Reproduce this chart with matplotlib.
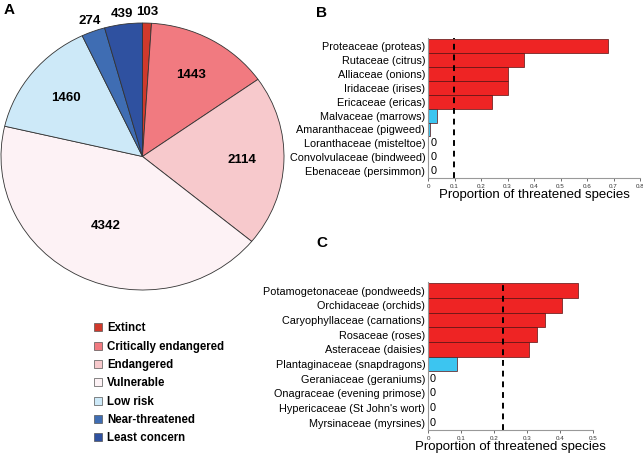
import numpy as np
import matplotlib.pyplot as plt
from matplotlib.patches import Patch

# Panel A: IUCN categories
cats = ['Extinct', 'Critically endangered', 'Endangered', 'Vulnerable',
        'Low risk', 'Near-threatened', 'Least concern']
counts = [103, 1443, 2114, 4342, 1460, 274, 439]
pie_colors = ['#d0392b', '#f17a80', '#f7c9cc', '#fdf2f5', '#cde9f8', '#3f6db3', '#2f51a0']

# Panel B
fam_b = ['Proteaceae (proteas)', 'Rutaceae (citrus)', 'Alliaceae (onions)',
         'Iridaceae (irises)', 'Ericaceae (ericas)', 'Malvaceae (marrows)',
         'Amaranthaceae (pigweed)', 'Loranthaceae (misteltoe)',
         'Convolvulaceae (bindweed)', 'Ebenaceae (persimmon)']
prop_b = [0.68, 0.362, 0.302, 0.302, 0.243, 0.035, 0.008, 0, 0, 0]
mean_b = 0.097

# Panel C
fam_c = ['Potamogetonaceae (pondweeds)', 'Orchidaceae (orchids)',
         'Caryophyllaceae (carnations)', 'Rosaceae (roses)', 'Asteraceae (daisies)',
         'Plantaginaceae (snapdragons)', 'Geraniaceae (geraniums)',
         'Onagraceae (evening primose)', "Hypericaceae (St John's wort)",
         'Myrsinaceae (myrsines)']
prop_c = [0.456, 0.405, 0.356, 0.33, 0.305, 0.088, 0, 0, 0, 0]
mean_c = 0.228

plt.rcParams['font.family'] = ['Liberation Sans', 'DejaVu Sans']
fig = plt.figure(figsize=(6.43, 4.61), dpi=100)

# ---- pie ----
ax = fig.add_axes([1/643, 171/461, 283/643, 267/461])
wedges, _ = ax.pie(counts, colors=pie_colors, startangle=90, counterclock=False,
                   radius=1, wedgeprops=dict(edgecolor='#333333', linewidth=0.6))
ax.set_aspect('auto')
ax.set_xlim(-1, 1)
ax.set_ylim(-1, 1)
for w, n in zip(wedges, counts):
    ang = np.deg2rad((w.theta1 + w.theta2) / 2)
    r = 1.08 if n < 500 else (0.58 if n > 4000 else 0.7)
    ax.text(r * np.cos(ang), r * np.sin(ang), str(n), ha='center', va='center',
            fontsize=9.5, fontweight='bold', clip_on=False)

handles = [Patch(facecolor=c, edgecolor='#555555', linewidth=0.5) for c in pie_colors]
fig.legend(handles, cats, loc='upper left', bbox_to_anchor=(84/643, 1 - 312/461),
           frameon=False, prop=dict(size=8.3, weight='bold'), handlelength=0.7,
           handleheight=0.7, handletextpad=0.4, labelspacing=0.55)

fig.text(4/643, 1 - 10/461, 'A', fontsize=11, fontweight='bold', va='center')
fig.text(316/643, 1 - 13/461, 'B', fontsize=11, fontweight='bold', va='center')
fig.text(316/643, 1 - 243/461, 'C', fontsize=11, fontweight='bold', va='center')


def bars(ax, fams, props, mean, xmax):
    y = np.arange(len(fams))
    cols = ['#ee2424' if p > mean else '#3cc5f0' for p in props]
    ax.barh(y, props, height=1.0, color=cols, edgecolor='#5a1010', linewidth=0.5)
    for yi, p in zip(y, props):
        if p == 0:
            ax.text(xmax * 0.012, yi, '0', ha='left', va='center', fontsize=7.8)
    ax.axvline(mean, color='black', linestyle=(0, (3, 2.5)), linewidth=1.4)
    ax.set_yticks(y)
    ax.set_yticklabels(fams, fontsize=7.8)
    ax.set_ylim(len(fams) - 0.5, -0.6)
    ax.set_xlim(0, xmax)
    ax.tick_params(axis='y', length=0, pad=2)
    ax.tick_params(axis='x', labelsize=4.5, length=2, width=0.5, pad=2, colors='#333333')
    for s in ['top', 'right']:
        ax.spines[s].set_visible(False)
    ax.spines['left'].set_color('#999999')
    ax.spines['bottom'].set_color('#999999')
    ax.set_xlabel('Proportion of threatened species', fontsize=9.5, labelpad=0)


axb = fig.add_axes([428/643, 1 - 178/461, 212/643, 140/461])
bars(axb, fam_b, prop_b, mean_b, 0.8)
axb.set_xticks(np.arange(0, 0.81, 0.1))
axb.set_xticklabels(['0', '0.1', '0.2', '0.3', '0.4', '0.5', '0.6', '0.7', '0.8'])

axc = fig.add_axes([428/643, 1 - 430/461, 165/643, 148/461])
bars(axc, fam_c, prop_c, mean_c, 0.5)
axc.set_xticks(np.arange(0, 0.51, 0.1))
axc.set_xticklabels(['0', '0.1', '0.2', '0.3', '0.4', '0.5'])

fig.savefig('out.png', dpi=100)
